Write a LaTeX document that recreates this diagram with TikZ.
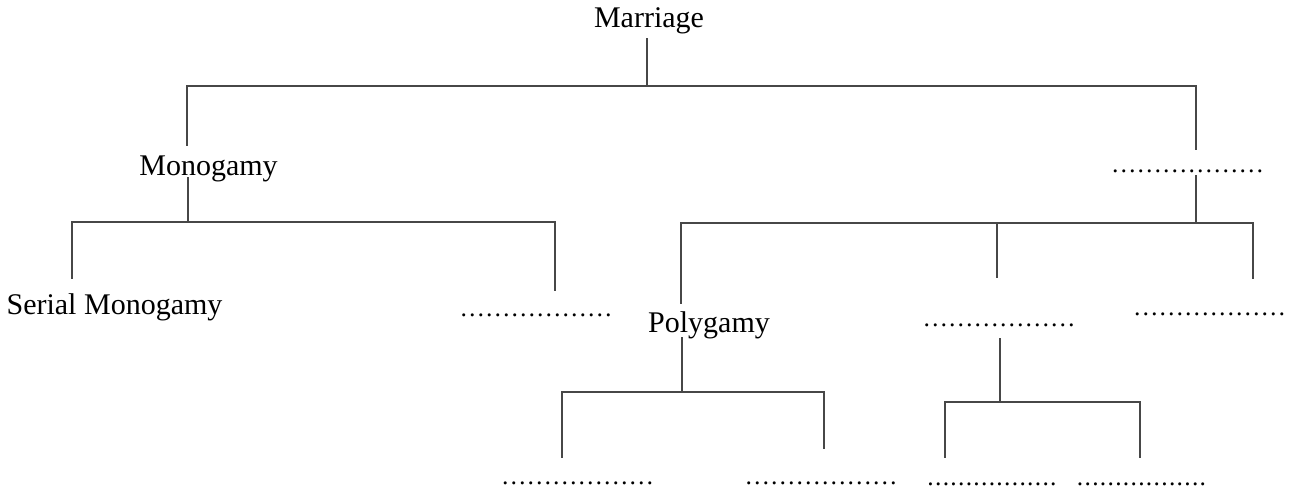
\documentclass[tikz,border=0pt]{standalone}
\usepackage{fontspec}
\setmainfont{Liberation Serif}
\newcommand\sixell{\char"2026\char"2026\char"2026\char"2026\char"2026\char"2026}
\newcommand\dotk{.\kern1.3pt}
\newcommand\seventeendots{\dotk\dotk\dotk\dotk\dotk\dotk\dotk\dotk\dotk\dotk\dotk\dotk\dotk\dotk\dotk\dotk.}
\begin{document}
\begin{tikzpicture}[x=1pt,y=-1pt,
  lbl/.style={anchor=base,inner sep=0pt,font=\fontsize{30}{36}\selectfont},
  dotsA/.style={anchor=base,inner sep=0pt,font=\fontsize{25.5}{30}\selectfont},
  dotsB/.style={anchor=base,inner sep=0pt,font=\fontsize{25.5}{30}\selectfont},
  link/.style={line width=1.3pt,draw=black!72,line cap=rect}]
\useasboundingbox[fill=white] (0,0) rectangle (1289,492);
% text nodes
\node[lbl] (marriage) at (649,28) {Marriage};
\node[lbl] (mono) at (208.5,175) {Monogamy};
\node[lbl] (serial) at (114.5,314) {Serial Monogamy};
\node[lbl] (poly) at (709,332) {Polygamy};
\node[dotsA] (d1) at (1187.5,172) {\sixell};
\node[dotsA] (d2) at (536,316.5) {\sixell};
\node[dotsA] (d3) at (999,326.5) {\sixell};
\node[dotsA] (d4) at (1209.5,315.5) {\sixell};
\node[dotsA] (d5) at (577.5,484.5) {\sixell};
\node[dotsA] (d6) at (821,484.5) {\sixell};
\node[dotsB] (d7) at (992,485.5) {\seventeendots};
\node[dotsB] (d8) at (1141.5,485.5) {\seventeendots};
% junction coordinates
\coordinate (mA) at (647,39);
\coordinate (mJ) at (647,86);
\coordinate (tL) at (187,86);
\coordinate (tR) at (1196,86);
\coordinate (monoTop) at (187,145);
\coordinate (d1Top) at (1196,149);
\coordinate (monoBot) at (188,178);
\coordinate (monoJ) at (188,222);
\coordinate (mhL) at (72,222);
\coordinate (mhR) at (555,222);
\coordinate (serialTop) at (72,278);
\coordinate (d2Top) at (555,290);
\coordinate (d1Bot) at (1196,176);
\coordinate (d1J) at (1196,223);
\coordinate (rhL) at (681,223);
\coordinate (rhM) at (997,223);
\coordinate (rhR) at (1253,223);
\coordinate (polyTop) at (681,303);
\coordinate (d3Top) at (997,277);
\coordinate (d4Top) at (1253,278);
\coordinate (polyBot) at (682,338);
\coordinate (polyJ) at (682,392);
\coordinate (phL) at (562,392);
\coordinate (phR) at (824,392);
\coordinate (d5Top) at (562,457);
\coordinate (d6Top) at (824,448);
\coordinate (d3Bot) at (1000,339);
\coordinate (d3J) at (1000,402);
\coordinate (dhL) at (945,402);
\coordinate (dhR) at (1140,402);
\coordinate (d7Top) at (945,457);
\coordinate (d8Top) at (1140,457);
% connectors
\draw[link] (mA) -- (mJ);
\draw[link] (monoTop) -- (tL) -- (tR) -- (d1Top);
\draw[link] (monoBot) -- (monoJ);
\draw[link] (serialTop) -- (mhL) -- (mhR) -- (d2Top);
\draw[link] (d1Bot) -- (d1J);
\draw[link] (polyTop) -- (rhL) -- (rhR) -- (d4Top);
\draw[link] (rhM) -- (d3Top);
\draw[link] (polyBot) -- (polyJ);
\draw[link] (d5Top) -- (phL) -- (phR) -- (d6Top);
\draw[link] (d3Bot) -- (d3J);
\draw[link] (d7Top) -- (dhL) -- (dhR) -- (d8Top);
\end{tikzpicture}
\end{document}
